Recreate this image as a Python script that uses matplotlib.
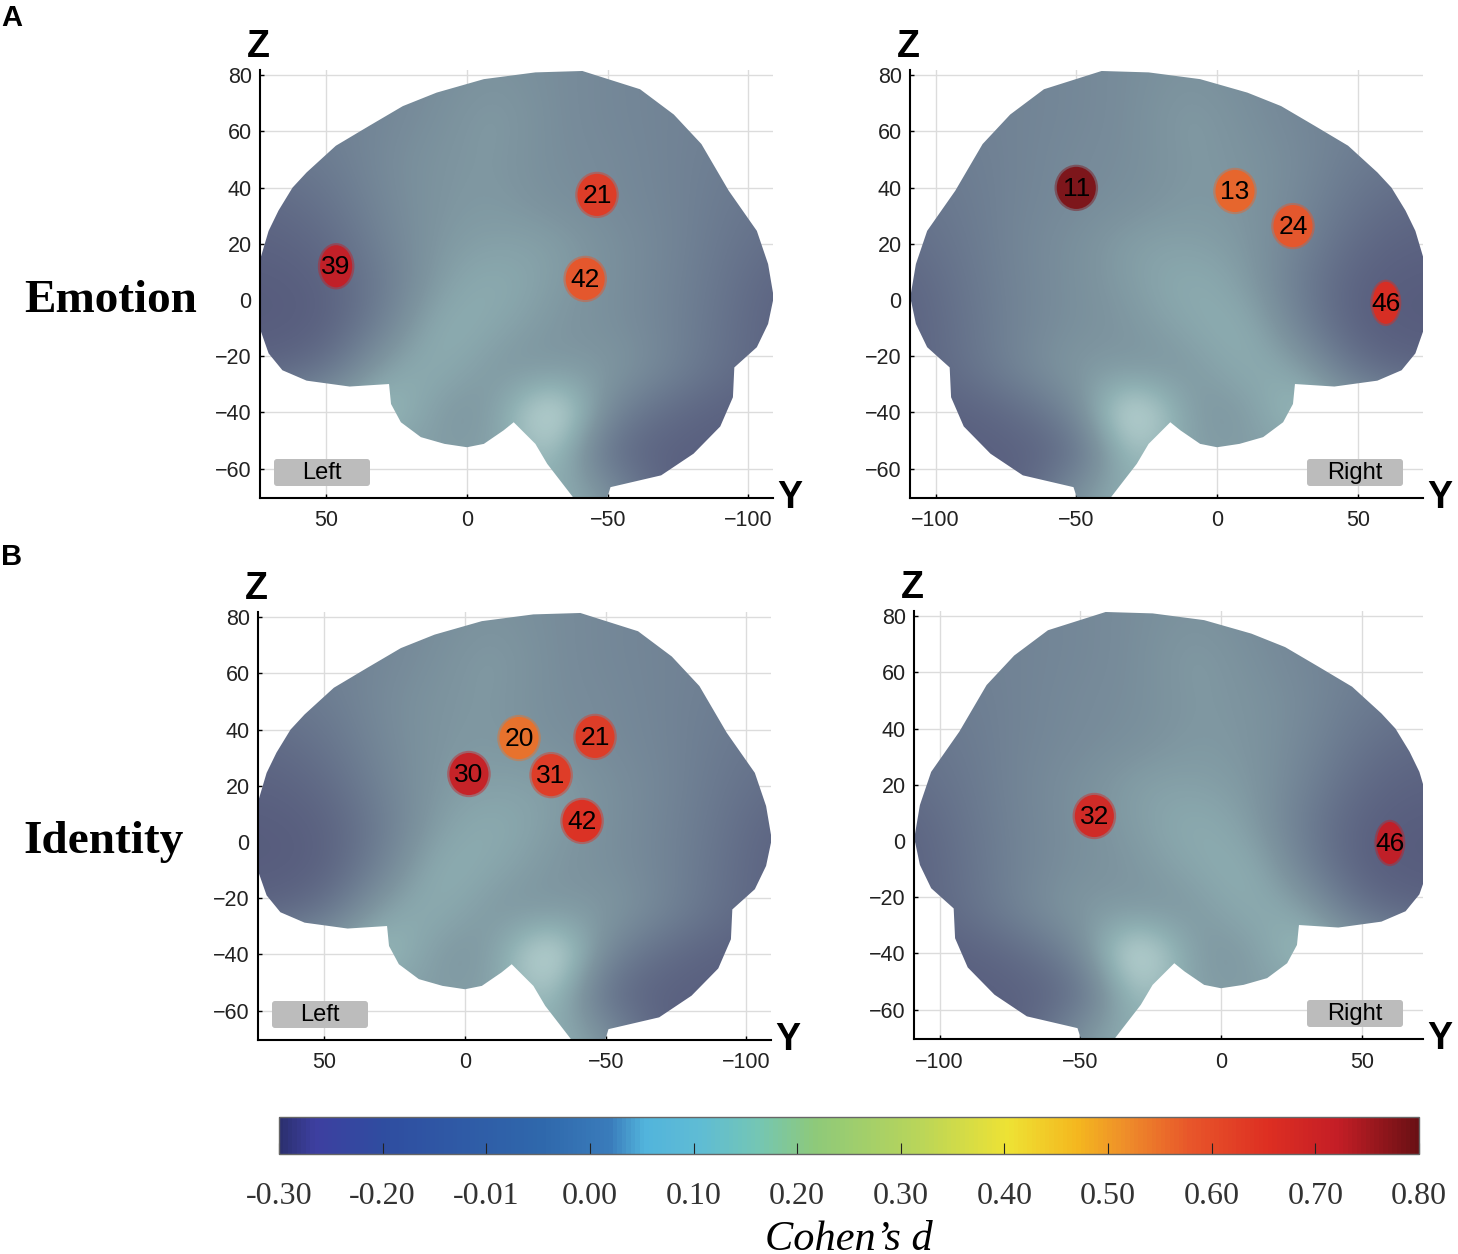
import matplotlib
matplotlib.use('Agg')
import matplotlib.pyplot as plt
from matplotlib.colors import LinearSegmentedColormap, Normalize
from matplotlib.patches import Ellipse, Polygon, FancyBboxPatch
import numpy as np

W, H = 1458, 1254
PX_PER_UNIT = 2.814

plt.rcParams['font.family'] = ['Liberation Sans', 'DejaVu Sans']

# brain outline (MNI Y, Z)
brain_y = [74.4, 74, 70.5, 67, 62, 57, 46.6, 34.7, 22.8, 10.8, -6, -24.3, -41, -61.5, -73.5, -83.3,
           -93, -103, -107, -109, -107, -103, -95, -94.5, -90, -80.5, -69, -51, -49.6, -38.3, -28.5,
           -24.3, -16.6, -13, -6, 0, 8, 16.4, 23.5, 27, 27.7, 41.7, 57, 65.6, 70.5, 73.3]
brain_z = [1, 12.8, 24.6, 31.8, 40, 45.4, 54.9, 62, 69, 73.8, 78.6, 81, 81.5, 75, 66, 55.5,
           38.9, 24.6, 12.8, 1, -8.5, -16.8, -24, -34.6, -45, -54.7, -62.4, -66.6, -71, -71, -58.3,
           -51.2, -43.5, -46.4, -51.2, -52.4, -51.2, -48.8, -43.5, -37, -29.9, -30.8, -28.7, -25, -19, -11]

# surface brightness, columns Y = 70..-110 step 20, rows Z = 80..-70 step 15
shade = [
    [.30, .30, .35, .40, .45, .40, .36, .33, .30, .30],
    [.30, .30, .35, .42, .50, .40, .36, .33, .30, .28],
    [.22, .26, .38, .45, .48, .40, .38, .33, .28, .25],
    [.12, .20, .36, .46, .48, .42, .38, .34, .26, .20],
    [.06, .12, .32, .48, .52, .52, .42, .35, .24, .15],
    [.02, .05, .26, .52, .60, .50, .42, .34, .22, .08],
    [.02, .04, .32, .62, .55, .46, .42, .34, .20, .06],
    [.08, .18, .55, .60, .46, .46, .50, .35, .18, .08],
    [.45, .55, .72, .46, .46, .98, .35, .14, .06, .04],
    [.50, .50, .50, .50, .50, .75, .14, .05, .04, .04],
    [.50, .50, .50, .50, .50, .60, .50, .05, .04, .04],
]

# channels per panel: number, Y, Z, Cohen's d
a_left_ch = [21, 39, 42]
a_left_y = [-46.2, 46.5, -42]
a_left_z = [37.4, 12, 7.5]
a_left_d = [.63, .72, .58]

a_right_ch = [11, 13, 24, 46]
a_right_y = [-50, 6.4, 27, 60]
a_right_z = [39.9, 38.8, 26.3, -1]
a_right_d = [.78, .56, .58, .66]

b_left_ch = [21, 20, 30, 31, 42]
b_left_y = [-46.2, -19.2, -1.4, -30.6, -41.6]
b_left_z = [37.4, 37, 24.2, 23.8, 7.5]
b_left_d = [.63, .55, .71, .63, .65]

b_right_ch = [32, 46]
b_right_y = [-45, 60]
b_right_z = [8.9, -0.7]
b_right_d = [.68, .72]

y_ticks = [50, 0, -50, -100]
z_ticks = [80, 60, 40, 20, 0, -20, -40, -60]

cbar_ticks = [-.3, -.2, -.1, 0, .1, .2, .3, .4, .5, .6, .7, .8]
cbar_labels = ['-0.30', '-0.20', '-0.01', '0.00', '0.10', '0.20', '0.30', '0.40', '0.50', '0.60', '0.70', '0.80']

d_cmap = LinearSegmentedColormap.from_list('cohen', [
    (0.000, '#2c3070'), (0.030, '#3d3fa0'), (0.090, '#2f4da0'), (0.230, '#2f68ac'), (0.290, '#3a7cbb'),
    (0.320, '#52b4dc'), (0.370, '#5fbcd4'), (0.420, '#74c6b4'), (0.470, '#8ec97a'), (0.560, '#b8d55a'),
    (0.640, '#eee234'), (0.700, '#f4b81f'), (0.745, '#ee8c2a'), (0.800, '#e8562a'), (0.870, '#dd2e22'),
    (0.930, '#c41e26'), (1.000, '#6a1014')])
d_norm = Normalize(-0.3, 0.8)
shade_cmap = LinearSegmentedColormap.from_list('surface', [
    (0, '#565a7c'), (.25, '#6b7a90'), (.45, '#7d949f'), (.6, '#8fb0b3'), (.8, '#c0d8d6'), (1, '#ffffff')])

fig = plt.figure(figsize=(W / 100, H / 100), dpi=100)


def px_axes(x0, x1, y_top, y_bottom):
    return fig.add_axes([x0 / W, 1 - y_bottom / H, (x1 - x0) / W, (y_bottom - y_top) / H])


def fig_text(x, y, s, **kw):
    fig.text(x / W, 1 - y / H, s, ha='center', va='center', **kw)


def brain_panel(x0, x1, y_zero, z_zero, y_bottom, side, ch, ys, zs, ds):
    z_top = 82
    ax = px_axes(x0, x1, z_zero - z_top * 2.81, y_bottom)
    sign = -1 if side == 'Left' else 1
    ax.set_xlim(sign * (x0 - y_zero) / PX_PER_UNIT, sign * (x1 - y_zero) / PX_PER_UNIT)
    ax.set_ylim((z_zero - y_bottom) / 2.81, z_top)

    ax.set_xticks(y_ticks)
    ax.set_yticks(z_ticks)
    ax.set_xticklabels(['\u2212' + str(-t) if t < 0 else str(t) for t in y_ticks])
    ax.set_yticklabels(['\u2212' + str(-t) if t < 0 else str(t) for t in z_ticks])
    ax.tick_params(direction='in', length=3, width=1, labelsize=15.5, labelcolor='#222222')
    ax.tick_params(axis='x', pad=9)
    ax.tick_params(axis='y', pad=6)
    ax.grid(True, color='#dcdcdc', linewidth=1)
    ax.set_axisbelow(True)
    ax.spines[['top', 'right']].set_visible(False)
    ax.spines[['left', 'bottom']].set_linewidth(1.5)

    im = ax.imshow(shade, cmap=shade_cmap, vmin=0, vmax=1, extent=(80, -120, -77.5, 87.5),
                   interpolation='bicubic', aspect='auto', zorder=2)
    ax.set_xlim(sign * (x0 - y_zero) / PX_PER_UNIT, sign * (x1 - y_zero) / PX_PER_UNIT)
    ax.set_ylim((z_zero - y_bottom) / 2.81, z_top)
    im.set_clip_path(Polygon(np.column_stack([brain_y, brain_z]), transform=ax.transData))

    for n, y, z, d in zip(ch, ys, zs, ds):
        # spots near the frontal edge are foreshortened
        w = 11 if y > 55 else 13 if y > 40 else 15.5
        c = d_cmap(d_norm(d))
        ax.add_patch(Ellipse((y, z), w, 16.5, color=c, alpha=.45, lw=0, zorder=3))
        ax.add_patch(Ellipse((y, z), w - 1.6, 15, color=c, alpha=.95, lw=0, zorder=3))
        ax.text(y, z - .3, str(n), ha='center', va='center', fontsize=19, color='black', zorder=4)

    # Left / Right badge
    if side == 'Left':
        bx0 = x0 + 14
    else:
        bx0 = x1 - 116
    by = y_bottom - 39
    ax.add_patch(FancyBboxPatch((bx0, H - by - 27), 96, 27, boxstyle='round,pad=0,rounding_size=3',
                                transform=None, facecolor='#bcbcbc', edgecolor='none', zorder=5))
    fig_text(bx0 + 48, by + 14, side, fontsize=17, color='black', zorder=6)

    fig_text(x0 - 2, z_zero - 253, 'Z', fontsize=27, fontweight='bold')
    fig_text(x1 + 17, y_bottom, 'Y', fontsize=27, fontweight='bold')
    return ax


brain_panel(260, 773, 467, 300, 498, 'Left', a_left_ch, a_left_y, a_left_z, a_left_d)
brain_panel(910, 1423, 1217, 300, 498, 'Right', a_right_ch, a_right_y, a_right_z, a_right_d)
brain_panel(258, 771, 465, 842, 1040, 'Left', b_left_ch, b_left_y, b_left_z, b_left_d)
brain_panel(914, 1423, 1221, 841, 1039, 'Right', b_right_ch, b_right_y, b_right_z, b_right_d)

fig_text(12, 18, 'A', fontsize=21, fontweight='bold')
fig_text(12, 557, 'B', fontsize=21, fontweight='bold')
fig_text(111, 301, 'Emotion', fontsize=34, fontweight='bold', family='Liberation Serif')
fig_text(104, 842, 'Identity', fontsize=34, fontweight='bold', family='Liberation Serif')

# colour bar
cax = px_axes(279, 1419, 1117, 1154)
cb = fig.colorbar(plt.cm.ScalarMappable(norm=d_norm, cmap=d_cmap), cax=cax, orientation='horizontal')
cb.set_ticks(cbar_ticks)
cb.set_ticklabels(cbar_labels)
cb.ax.tick_params(direction='in', length=8, width=0.8, color='#222222', labelsize=23, pad=20,
                  labelcolor='#333333', labelfontfamily='Liberation Serif')
cb.outline.set_edgecolor('#666666')
cb.outline.set_linewidth(1)
fig_text(849, 1240, 'Cohen\u2019s d', fontsize=30.5, fontstyle='italic', family='Liberation Serif')

fig.savefig('out.png', dpi=100)
